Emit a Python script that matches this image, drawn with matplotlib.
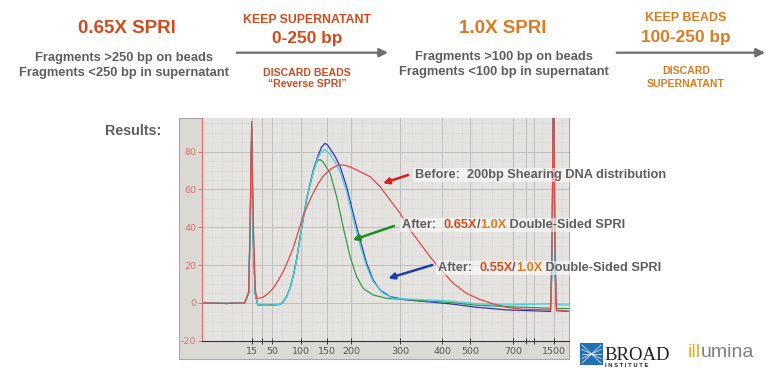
import matplotlib
matplotlib.use("Agg")
import matplotlib.pyplot as plt
from matplotlib.patches import Rectangle
from matplotlib.transforms import Bbox

plt.rcParams["axes.unicode_minus"] = False

# ---------------- data ----------------
# x = migration time (s); ladder sizes (bp) mapped to their times
ladder_bp = [15, 25, 50, 100, 150, 200, 300, 400, 500, 700, 850, 1000, 1500]
ladder_time = [50.0, 52.0, 54.1, 59.8, 65.1, 69.9, 79.7, 88.1, 93.7, 102.3, 104.9, 106.5, 110.4]
ladder_labels = ["15", "", "50", "100", "150", "200", "300", "400", "500", "700", "", "", "1500"]

y_ticks = [-20, 0, 20, 40, 60, 80]

before_t = [40, 45, 48.6, 49.4, 49.7, 50.0, 50.3, 50.7, 51.0, 52.3, 53.3, 54.3, 55.3, 56.3, 57.3,
            58.3, 59.3, 60.3, 61.3, 62.3, 63.3, 64.3, 65.7, 66.7, 67.7, 68.7, 69.7, 71.7, 73.7,
            75.7, 77.7, 79.7, 81.7, 83.7, 85.7, 87.7, 90.3, 93.0, 95.7, 98.3, 101.0, 104.3,
            109.8, 110.1, 110.4, 110.7, 111.0, 113.5]
before_v = [0, -0.3, 0, 6, 45, 96, 45, 8, 2.3, 3, 5, 7.7, 11.8, 16.5, 22.5,
            29, 37.5, 46, 52.5, 58, 63, 67, 70.5, 72.2, 73, 72.8, 72, 69.4, 66.8,
            61.5, 54.4, 47.4, 38.6, 31.5, 24.4, 18, 10.5, 5, 1.8, -0.5, -2.3, -3.4,
            -3.7, 30, 130, 30, -4, -4.5]

blue_t = [40, 45, 48.6, 49.4, 49.7, 50.0, 50.3, 50.7, 51.2, 53.0, 55.7, 56.3, 57.0, 57.7, 58.3,
          59.0, 59.7, 61.0, 62.3, 63.3, 64.0, 64.7, 65.2, 65.7, 66.7, 67.7, 69.0, 70.3, 71.7,
          73.0, 74.3, 75.7, 77.7, 81.0, 89.7, 95.0, 101.0, 109.8, 110.1, 110.4, 110.7, 111.0,
          113.5]
blue_v = [0, -0.3, 0, 5, 40, 92, 35, 5, -1, -1.3, -0.8, 0.5, 3.5, 8, 14,
          23, 35, 55, 70, 78, 82.5, 84.4, 83.5, 81.5, 77.5, 72, 61.5, 47.4, 33.3,
          21, 12.1, 6.8, 3.3, 1.6, -0.5, -2.3, -3.7, -4.5, 20, 125, 20, -4,
          -4.5]

cyan_t = [40, 45, 48.6, 49.4, 49.7, 50.0, 50.3, 50.7, 51.2, 53.0, 55.7, 56.3, 57.0, 57.7, 58.3,
          59.0, 59.7, 61.0, 62.3, 63.3, 64.0, 64.7, 65.7, 66.7, 67.7, 69.0, 70.3, 71.7, 73.0,
          74.3, 76.3, 78.3, 89.7, 95.0, 101.0, 109.8, 110.1, 110.4, 110.7, 111.0, 113.5]
cyan_v = [0, -0.3, 0, 5, 40, 90, 35, 5, -1, -1.3, -0.8, 0.5, 3.5, 8, 14,
          23, 35, 55, 69, 77, 80, 81, 78.5, 74.5, 69.4, 58.8, 44.7, 30.6, 19.2,
          11.3, 5.1, 2.4, 1, -0.5, -1.1, -0.5, 20, 115, 20, -1, -1.1]

green_t = [40, 45, 48.6, 49.4, 49.7, 50.0, 50.3, 50.7, 51.2, 53.0, 55.7, 56.3, 57.0, 57.7, 58.3,
           59.0, 59.7, 61.0, 62.3, 62.8, 63.3, 63.7, 64.3, 65.0, 65.7, 67.0, 68.3, 69.7, 71.0,
           72.3, 74.3, 77.0, 89.7, 95.0, 101.0, 109.8, 110.1, 110.4, 110.7, 111.0, 113.5]
green_v = [0, -0.3, 0, 5, 40, 88, 35, 5, -1, -1.3, -0.8, 0.5, 3.5, 8, 14,
           23, 35, 55, 69, 73.5, 75.5, 75.8, 74.5, 71.5, 68.6, 56.2, 40.3, 24.4, 13.9,
           7.7, 4.2, 2.4, 0.2, -1.2, -2, -2.8, 20, 115, 20, -3, -3]

# ---------------- figure ----------------
W, H = 780, 386
fig = plt.figure(figsize=(7.8, 3.86), dpi=100)
fig.patch.set_facecolor("white")

bg = fig.add_axes([0, 0, 1, 1], zorder=0)
bg.set_xlim(0, W); bg.set_ylim(H, 0); bg.axis("off")

RED = "#d44a1c"
ORG = "#e07a1f"
GRAY = "#5e5e5e"
HF = "Liberation Sans"

def t(ax, x, y, s, size, color, ha="center", weight="bold", family=HF, **kw):
    return ax.text(x, y, s, fontsize=size, color=color, ha=ha, va="baseline",
                   fontweight=weight, family=family, **kw)

# header left
t(bg, 127, 33, "0.65X SPRI", 13.5, RED)
t(bg, 124, 61, "Fragments >250 bp on beads", 9.3, GRAY)
t(bg, 124, 76, "Fragments <250 bp in supernatant", 9.3, GRAY)
t(bg, 307, 22.7, "KEEP SUPERNATANT", 8.8, RED)
t(bg, 307, 42.7, "0-250 bp", 12.4, RED)
t(bg, 307, 76, "DISCARD BEADS", 7.6, RED)
t(bg, 307, 87, "\u201cReverse SPRI\u201d", 7.6, RED)
bg.annotate("", xy=(388, 52.7), xytext=(236.7, 52.7),
            arrowprops=dict(arrowstyle="-|>", color="#6e6e6e", lw=1.6, mutation_scale=13,
                            shrinkA=0, shrinkB=0))
# header right
t(bg, 503, 33, "1.0X SPRI", 13.5, ORG)
t(bg, 504, 60, "Fragments >100 bp on beads", 9.3, GRAY)
t(bg, 504, 75, "Fragments <100 bp in supernatant", 9.3, GRAY)
t(bg, 686, 20.7, "KEEP BEADS", 9.0, ORG)
t(bg, 686, 41.7, "100-250 bp", 12.4, ORG)
t(bg, 686, 74, "DISCARD", 7.6, ORG)
t(bg, 686, 86.7, "SUPERNATANT", 7.6, ORG)
bg.annotate("", xy=(765, 52.7), xytext=(616.7, 52.7),
            arrowprops=dict(arrowstyle="-|>", color="#6e6e6e", lw=1.6, mutation_scale=13,
                            shrinkA=0, shrinkB=0))

t(bg, 105, 135, "Results:", 10.3, GRAY, ha="left")

# chart panel
bg.add_patch(Rectangle((179, 118), 390, 241, facecolor="#dbd9d4", edgecolor="#a8a8a8", lw=0.8))

# logos
bg.add_patch(Rectangle((580, 343), 23, 22, facecolor="#2270b8", edgecolor="none"))
for k in range(5):
    bg.plot([582, 601], [345 + 4.5 * k, 363 - 4.5 * k], color="white", lw=0.6, alpha=0.8)
t(bg, 604, 360, "BROAD", 13.5, "#222222", ha="left", weight="normal", family="Liberation Serif")
t(bg, 605, 367, "I N S T I T U T E", 4.2, "#222222", ha="left", weight="bold", family="Liberation Sans")
il = t(bg, 688, 357, "ill", 14, "#f0b020", ha="left", weight="normal")
bg.annotate("umina", xy=(1, 0), xycoords=il, va="bottom", ha="left", fontsize=14,
            color="#808080", family=HF)

# ---------------- chart ----------------
ax = fig.add_axes([201.7 / W, 1 - 340.7 / H, (569 - 201.7) / W, (340.7 - 118) / H], zorder=1)
ax.set_facecolor("#e4e3df")
ax.set_xlim(40, 113.5)
ax.set_ylim(-20, 97.8)

ax.set_xticks(ladder_time)
ax.set_xticklabels(ladder_labels)
ax.set_yticks(y_ticks)
ax.set_xticks([40 + 2 * i for i in range(37)], minor=True)
ax.set_yticks([-20 + 5 * i for i in range(24)], minor=True)
ax.grid(True, which="major", color="#b9b9b9", lw=0.6)
ax.grid(True, which="minor", color="#cfcfcf", lw=0.5, ls=(0, (1, 2)))
ax.tick_params(which="minor", length=0)
ax.tick_params(axis="x", which="major", direction="inout", length=5, width=0.7, color="#333333",
               labelsize=6.8, labelcolor="#555555", pad=2)
ax.tick_params(axis="y", which="major", direction="out", length=3, width=0.7, color="#e07070",
               labelsize=6.8, labelcolor="#e07070", pad=1)
for s in ["top", "right"]:
    ax.spines[s].set_visible(False)
ax.spines["left"].set_color("#e07070")
ax.spines["left"].set_linewidth(0.9)
ax.spines["bottom"].set_color("#333333")
ax.spines["bottom"].set_linewidth(0.8)
ax.set_axisbelow(True)

ax.plot(blue_t, blue_v, color="#3535b5", lw=0.9)
ax.plot(green_t, green_v, color="#3a9a48", lw=0.9)
ax.plot(cyan_t, cyan_v, color="#45cfe0", lw=0.9)
ax.plot(before_t, before_v, color="#e04848", lw=0.9)

# ---------------- annotations ----------------
fg = fig.add_axes([0, 0, 1, 1], zorder=2)
fg.set_xlim(0, W); fg.set_ylim(H, 0); fg.axis("off")
fg.patch.set_alpha(0)

AF = 9.2
groups = []

def multi(x, y, parts):
    prev = fg.text(x, y, parts[0][0], fontsize=AF, color=parts[0][1], fontweight="bold",
                   family=HF, ha="left", va="bottom", zorder=3)
    arts = [prev]
    for s, c in parts[1:]:
        prev = fg.annotate(s, xy=(1, 0), xycoords=prev, va="bottom", ha="left", fontsize=AF,
                           color=c, fontweight="bold", family=HF, zorder=3)
        arts.append(prev)
    groups.append(arts)

multi(415, 181, [("Before:  200bp Shearing DNA distribution", GRAY)])
multi(402, 231, [("After:  ", GRAY), ("0.65X", RED), ("/", GRAY), ("1.0X", ORG),
                 (" Double-Sided SPRI", GRAY)])
multi(438, 274, [("After:  ", GRAY), ("0.55X", RED), ("/", GRAY), ("1.0X", ORG),
                 (" Double-Sided SPRI", GRAY)])

def arrow(x0, y0, x1, y1, c):
    fg.annotate("", xy=(x1, y1), xytext=(x0, y0),
                arrowprops=dict(arrowstyle="-|>", color=c, lw=1.8, mutation_scale=9,
                                shrinkA=0, shrinkB=0))

arrow(408, 175, 383, 183.3, "#d42020")
arrow(394, 226, 352.7, 240, "#228a22")
arrow(432.3, 265, 388.3, 278.3, "#1f3ea8")

# light backing boxes behind the annotation texts
fig.canvas.draw()
r = fig.canvas.get_renderer()
inv = fg.transData.inverted()
for arts in groups:
    bb = Bbox.union([a.get_window_extent(r) for a in arts])
    (x0, y0), (x1, y1) = inv.transform([[bb.x0, bb.y0], [bb.x1, bb.y1]])
    fg.add_patch(Rectangle((x0 - 2, min(y0, y1) - 1), (x1 - x0) + 4, abs(y1 - y0) + 2,
                           facecolor="white", edgecolor="none", alpha=0.55, zorder=1))

fig.savefig("out.png", dpi=100)
